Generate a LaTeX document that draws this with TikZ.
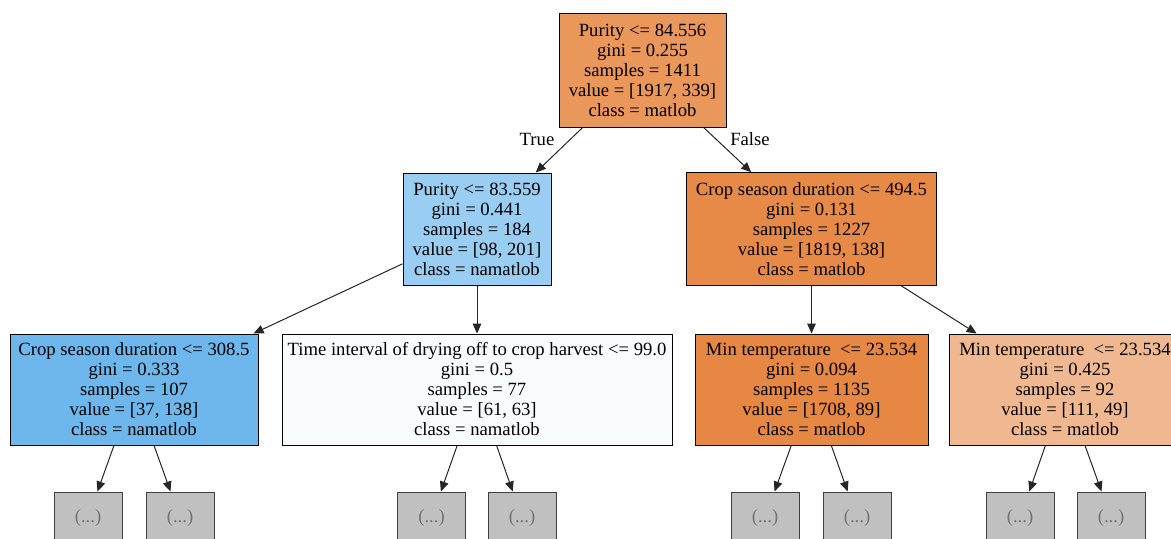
\documentclass[tikz,border=0pt]{standalone}
\usepackage{fontspec}
\setmainfont{Liberation Serif}
\usetikzlibrary{arrows.meta}

\definecolor{rootfill}{HTML}{EA975C}
\definecolor{purityfill}{HTML}{9ACDF2}
\definecolor{seasonfill}{HTML}{E78A48}
\definecolor{shortfill}{HTML}{6EB7EC}
\definecolor{dryfill}{HTML}{F9FCFE}
\definecolor{mintempfill}{HTML}{E68743}
\definecolor{warmfill}{HTML}{F0B890}
\definecolor{leaffill}{HTML}{C0C0C0}

\tikzset{
  split/.style={draw=black, line width=0.75pt, align=center,
    font=\fontsize{14}{15}\selectfont, inner sep=0pt},
  leaf/.style={draw=black!75, line width=0.75pt, fill=leaffill, text=black!55,
    font=\fontsize{14}{15}\selectfont, minimum width=51pt, minimum height=39pt},
  edge/.style={-{Triangle[length=7.5pt,width=6.5pt]}, line width=0.75pt, draw=black!85},
  branch/.style={font=\fontsize{14}{15}\selectfont, inner sep=0pt}
}

\begin{document}
\begin{tikzpicture}[x=0.75pt,y=-0.75pt]
      \clip (0,0) rectangle (1171,539);
      \fill[white] (0,0) rectangle (1171,539);

      % Depth 0 and 1
      \node[split, fill=rootfill, minimum width=125.25pt, minimum height=85.5pt] (root) at (642.5,70)
        {Purity <= 84.556\\gini = 0.255\\samples = 1411\\value = [1917, 339]\\class = matlob};
      \node[split, fill=purityfill, minimum width=111pt, minimum height=84pt] (purity) at (477,229)
        {Purity <= 83.559\\gini = 0.441\\samples = 184\\value = [98, 201]\\class = namatlob};
      \node[split, fill=seasonfill, minimum width=187pt, minimum height=84.5pt] (season) at (811.5,229)
        {Crop season duration <= 494.5\\gini = 0.131\\samples = 1227\\value = [1819, 138]\\class = matlob};

      % Depth 2
      \node[split, fill=shortfill, minimum width=186pt, minimum height=83.25pt] (short) at (134,389.5)
        {Crop season duration <= 308.5\\gini = 0.333\\samples = 107\\value = [37, 138]\\class = namatlob};
      \node[split, fill=dryfill, minimum width=292.5pt, minimum height=83.25pt] (dry) at (477,389.5)
        {Time interval of drying off to crop harvest <= 99.0\\gini = 0.5\\samples = 77\\value = [61, 63]\\class = namatlob};
      \node[split, fill=mintempfill, minimum width=174.75pt, minimum height=83.25pt] (mintemp) at (811.5,389.5)
        {Min temperature\ \ <= 23.534\\gini = 0.094\\samples = 1135\\value = [1708, 89]\\class = matlob};
      \node[split, fill=warmfill, minimum width=174pt, minimum height=83.25pt] (warm) at (1065,389.5)
        {Min temperature\ \ <= 23.534\\gini = 0.425\\samples = 92\\value = [111, 49]\\class = matlob};

      % Truncated leaves
      \node[leaf] (l1) at (88,518) {(...)};
      \node[leaf] (l2) at (180,518) {(...)};
      \node[leaf] (l3) at (431.5,518) {(...)};
      \node[leaf] (l4) at (522,518) {(...)};
      \node[leaf] (l5) at (765,518) {(...)};
      \node[leaf] (l6) at (857,518) {(...)};
      \node[leaf] (l7) at (1020,518) {(...)};
      \node[leaf] (l8) at (1111,518) {(...)};

      % Edges
      \draw[edge] (root) -- (purity);
      \draw[edge] (root) -- (season);
      \node[branch] (true) at (537,139) {True};
      \node[branch] (false) at (750,139) {False};
      \draw[edge] (purity) -- (short);
      \draw[edge] (purity) -- (dry);
      \draw[edge] (season) -- (mintemp);
      \draw[edge] (season) -- (warm);
      \draw[edge] (short) -- (l1);
      \draw[edge] (short) -- (l2);
      \draw[edge] (dry) -- (l3);
      \draw[edge] (dry) -- (l4);
      \draw[edge] (mintemp) -- (l5);
      \draw[edge] (mintemp) -- (l6);
      \draw[edge] (warm) -- (l7);
      \draw[edge] (warm) -- (l8);
\end{tikzpicture}
\end{document}
